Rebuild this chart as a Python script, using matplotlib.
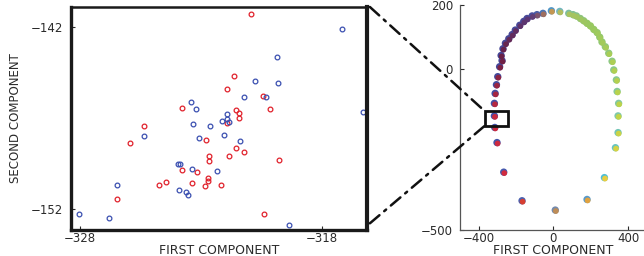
import matplotlib
matplotlib.use('Agg')
import matplotlib.pyplot as plt
from matplotlib.patches import Rectangle, ConnectionPatch
from matplotlib.colors import LinearSegmentedColormap
import numpy as np

# zoomed view (left panel): two groups of points
red_x = [-320.94, -321.63, -321.92, -320.44, -323.77, -320.14, -321.56, -321.43, -321.42, -321.92,
         -325.35, -325.93, -322.79, -321.57, -321.21, -322.66, -321.82, -322.68, -319.78, -323.78,
         -323.17, -322.69, -322.69, -323.37, -324.43, -324.73, -322.19, -322.83, -326.48, -320.40]
red_y = [-141.31, -144.72, -145.42, -145.78, -146.44, -146.52, -146.55, -146.72, -147.03, -147.28,
         -147.47, -148.36, -148.20, -148.67, -148.89, -149.07, -149.07, -149.37, -149.29, -149.84,
         -149.99, -150.32, -150.46, -150.56, -150.50, -150.68, -150.67, -150.76, -151.45, -152.26]
blue_x = [-317.17, -319.86, -320.76, -319.82, -321.23, -320.32, -323.42, -323.20, -316.30, -321.92,
          -323.34, -322.62, -322.12, -321.93, -321.82, -325.35, -323.08, -322.04, -321.38, -323.96,
          -323.85, -323.37, -322.34, -326.46, -323.90, -323.63, -323.52, -328.03, -326.81, -319.37]
blue_y = [-142.11, -143.65, -144.96, -145.11, -145.84, -145.84, -146.11, -146.50, -146.68, -146.79,
          -147.34, -147.47, -147.19, -147.08, -147.25, -147.98, -148.11, -147.94, -148.27, -149.55,
          -149.51, -149.81, -149.92, -150.68, -150.96, -151.05, -151.23, -152.29, -152.48, -152.86]

# full view (right panel)
full_x = [-9, 36, -54, 84, -86, -112, -139, -157, -178, -202, -219, -237, -255, -268, -278, -273,
          -286, -296, -303, -310, -314, -314, -312, -300, -264, -166, 12, 182, 275, 334, 348, 348,
          351, 343, 339, 325, 316, 298, 280, 262, 250, 236, 218, 200, 182, 164, 146, 125, 107]
full_y = [180, 178, 172, 172, 168, 164, 156, 147, 135, 120, 106, 93, 79, 62, 41, 25,
          6, -25, -50, -77, -108, -147, -183, -230, -322, -411, -440, -407, -339, -246, -199, -147,
          -108, -71, -35, -4, 23, 48, 68, 83, 98, 112, 122, 133, 141, 149, 156, 164, 168]

# zoom box drawn on the full view
box_x = [-368, -245]
box_y = [-176, -130]

fill_cmap = LinearSegmentedColormap.from_list('fill', [
    (0.0, '#b98a5a'), (0.10, '#e0a040'), (0.16, '#e8d040'), (0.26, '#c0d448'),
    (0.42, '#98c860'), (0.50, '#b0c060'), (0.53, '#c89050'), (0.58, '#5a3a7a'),
    (0.68, '#6a2045'), (0.77, '#c82a40'), (0.86, '#d02a40'), (0.93, '#d84030'),
    (1.0, '#b98a5a')])
ring_cmap = LinearSegmentedColormap.from_list('ring', [
    (0.0, '#7888a8'), (0.10, '#5898c8'), (0.16, '#50c0d8'), (0.26, '#80c8a8'),
    (0.42, '#98c860'), (0.50, '#70b8c0'), (0.53, '#4a90c8'), (0.58, '#4a4a9a'),
    (0.68, '#454595'), (0.77, '#4050a8'), (0.93, '#4a60b0'), (1.0, '#7888a8')])

fx = np.array(full_x, dtype=float)
fy = np.array(full_y, dtype=float)
phase = ((np.degrees(np.arctan2(fy + 130, fx - 10)) + 95) % 360) / 360.

plt.rcParams['font.family'] = 'DejaVu Sans'
txt = '#2a2a2a'

fig = plt.figure(figsize=(6.44, 2.56), dpi=100)

# left panel
ax1 = fig.add_axes([0.1102, 0.1016, 0.4596, 0.8711])
ax1.plot(red_x, red_y, 'o', mfc='none', mec='#e0202a', ms=3.4, mew=0.9, ls='none')
ax1.plot(blue_x, blue_y, 'o', mfc='none', mec='#3a4fb0', ms=3.4, mew=0.9, ls='none')
ax1.set_xlim(-328.37, -316.14)
ax1.set_ylim(-153.15, -140.92)
ax1.set_xticks([-328, -318])
ax1.set_yticks([-142, -152])
ax1.set_xticklabels([u'\u2212328', u'\u2212318'])
ax1.set_yticklabels([u'\u2212142', u'\u2212152'])
ax1.tick_params(direction='in', length=3, width=0.8, labelsize=8.5, colors=txt, pad=1.5)
ax1.tick_params(axis='y', pad=6)
for side, w in zip(['left', 'right', 'bottom', 'top'], [2.4, 3.0, 2.4, 1.8]):
    ax1.spines[side].set_linewidth(w)
    ax1.spines[side].set_color('#1a1a1a')
ax1.set_xlabel('FIRST COMPONENT', fontsize=9, color=txt, labelpad=-1)
ax1.set_ylabel('SECOND COMPONENT', fontsize=8.5, color=txt, labelpad=6)

# right panel
ax2 = fig.add_axes([0.7143, 0.1016, 0.2901, 0.8789])
ax2.scatter(fx - 2, fy + 2, s=28, c=phase, cmap=ring_cmap, vmin=0, vmax=1, edgecolors='none')
ax2.scatter(fx + 1, fy - 1, s=17, c=phase, cmap=fill_cmap, vmin=0, vmax=1, edgecolors='none')
ax2.add_patch(Rectangle((box_x[0], box_y[0]), box_x[1] - box_x[0], box_y[1] - box_y[0],
                        fill=False, ec='#111111', lw=2.0, zorder=5))
ax2.set_xlim(-500, 500)
ax2.set_ylim(-500, 200)
ax2.set_xticks([-400, 0, 400])
ax2.set_yticks([200, 0, -500])
ax2.set_xticklabels([u'\u2212400', '0', '400'])
ax2.set_yticklabels(['200', '0', u'\u2212500'])
ax2.tick_params(direction='in', length=3, width=0.8, labelsize=8.5, colors=txt, pad=1.5)
ax2.tick_params(axis='y', pad=5)
ax2.spines['right'].set_visible(False)
ax2.spines['top'].set_visible(False)
for side in ['left', 'bottom']:
    ax2.spines[side].set_color('#555555')
    ax2.spines[side].set_linewidth(0.9)
ax2.set_xlabel('FIRST COMPONENT', fontsize=9, color=txt, labelpad=-1)

# connector lines from zoomed panel to the box
for ya, yb in [(1.0, box_y[1]), (0.03, box_y[0])]:
    con = ConnectionPatch(xyA=(1.01, ya), coordsA=ax1.transAxes,
                          xyB=(box_x[0], yb), coordsB=ax2.transData,
                          color='#111111', lw=1.8, linestyle=(0, (5, 2.5, 1, 2.5)))
    fig.add_artist(con)

fig.savefig('out.png', dpi=100)
